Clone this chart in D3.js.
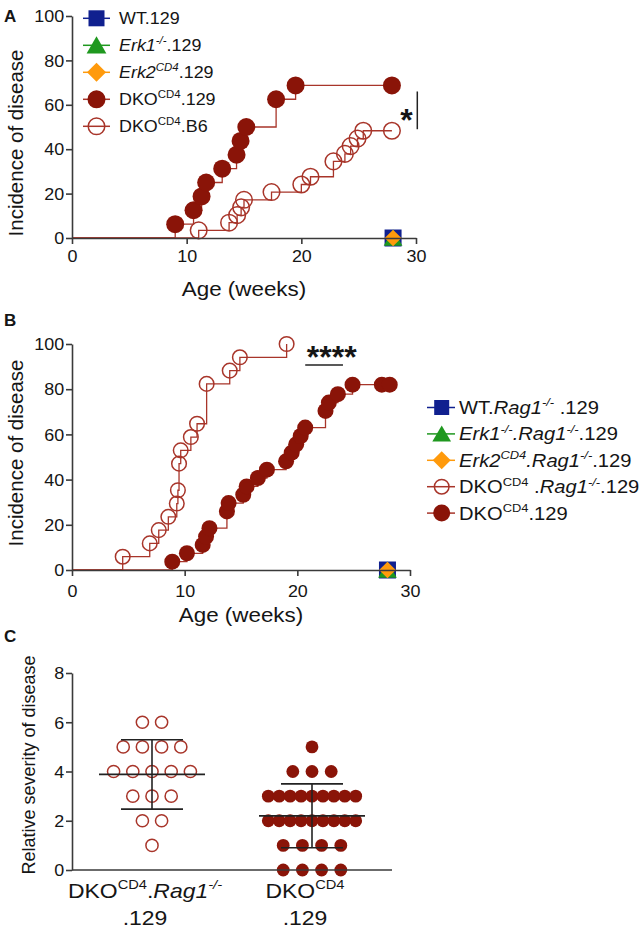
<!DOCTYPE html>
<html><head><meta charset="utf-8">
<script src="https://cdn.jsdelivr.net/npm/d3@7"></script>
<style>
body{margin:0;background:#fff}
svg{display:block}
text{font-family:"Liberation Sans",Arial,Helvetica,sans-serif;fill:#151515}
</style>
</head><body>
<svg id="chart" width="641" height="932"></svg>
<script>
// ---------------- DATA ----------------
const ageTicks = [0, 10, 20, 30];
const incidenceTicks = [0, 20, 40, 60, 80, 100];
const severityTicks = [0, 2, 4, 6, 8];

// Panel A
const aDko129Age = [9.0, 10.6, 11.3, 11.7, 13.1, 14.35, 14.7, 15.2, 17.8, 19.5];
const aDko129Inc = [6.25, 12.5, 18.75, 25, 31.25, 37.5, 43.75, 50, 62.5, 68.75];
const aDko129Censor = [27.9];
const aDkoB6Age = [11.05, 13.7, 14.4, 14.75, 15.0, 17.4, 20.0, 20.8, 22.8, 23.8, 24.3, 24.9, 25.4];
const aDkoB6Inc = [3.45, 6.9, 10.3, 13.8, 17.2, 20.7, 24.1, 27.6, 34.5, 37.9, 41.4, 44.8, 48.3];
const aDkoB6Censor = [27.9];
const controlAge = [28, 28, 28];     // WT, Erk1-/-, Erk2CD4 : no disease
const controlInc = [0, 0, 0];

// Panel B
const bRagAge = [4.5, 6.9, 7.7, 8.55, 9.3, 9.4, 9.5, 9.65, 10.55, 11.1, 11.95, 14.0, 14.9, 19.05];
const bRagInc = [5.88, 11.76, 17.65, 23.53, 29.41, 35.29, 47.06, 52.94, 58.82, 64.71, 82.35, 88.24, 94.12, 100];
const bDkoAge = [8.9, 10.2, 11.6, 11.9, 12.2, 13.75, 13.9, 15.2, 15.5, 16.5, 17.3, 19.0, 19.5, 19.9, 20.3, 20.7, 22.5, 22.8, 23.6, 24.9];
const bDkoInc = [3.7, 7.4, 11.1, 14.8, 18.5, 25.9, 29.6, 33.3, 37.0, 40.7, 44.4, 48.1, 51.9, 55.6, 59.3, 63.0, 70.4, 74.1, 77.8, 82.0];
const bDkoCensor = [27.5, 28.2];

// Panel C
const severityGroups = ["rag", "dko"];
const severityRag = [6, 6, 5, 5, 5, 5, 4, 4, 4, 4, 4, 3, 3, 3, 2, 2, 1];
const severityDko = [5, 4, 4, 4, 3, 3, 3, 3, 3, 3, 3, 3, 3, 2, 2, 2, 2, 2, 2, 2, 2, 2, 1, 1, 1, 1, 0, 0, 0, 0];

// ---------------- STYLE ----------------
const SX = 1.12;
const RED = "#8a1408", RED_LINE = "#a8352a", NAVY = "#10208f", GREEN = "#1f981f", ORANGE = "#ff9a0c", AX = "#3a3a3a";
const svg = d3.select("#chart");

function rich(parent, x, y, segs, o = {}) {
  const size = o.size || 16;
  const g = parent.append("g").attr("transform", `translate(${x},${y})` + (o.rot ? ` rotate(${o.rot})` : ` scale(${o.sx || SX},1)`));
  const t = g.append("text").attr("font-size", size).attr("text-anchor", o.anchor || "start");
  if (o.weight) t.attr("font-weight", o.weight);
  let shift = 0;
  segs.forEach(s => {
    const target = s.sup ? -size * 0.42 : 0;
    const ts = t.append("tspan").text(s.t).attr("dy", target - shift);
    shift = target;
    if (s.sup) ts.attr("font-size", size * 0.64);
    if (s.it) ts.attr("font-style", "italic");
  });
  return t;
}

function marker(g, type, x, y, s) {
  const c = g.append("g").attr("transform", `translate(${x},${y})`);
  if (type === "square") c.append("rect").attr("x", -s / 2).attr("y", -s / 2).attr("width", s).attr("height", s).attr("fill", NAVY);
  if (type === "triangle") c.append("path").attr("d", `M${-s * 0.55},${s * 0.45}L${s * 0.55},${s * 0.45}L0,${-s * 0.5}Z`).attr("fill", GREEN);
  if (type === "diamond") c.append("path").attr("d", `M0,${-s / 2}L${s / 2},0L0,${s / 2}L${-s / 2},0Z`).attr("fill", ORANGE);
  if (type === "filled") c.append("circle").attr("r", s / 2).attr("fill", RED);
  if (type === "open") c.append("circle").attr("r", s / 2 - 0.7).attr("fill", "none").attr("stroke", RED_LINE).attr("stroke-width", 1.5);
}

function styleAxis(g) {
  g.selectAll("path,line").attr("stroke", AX).attr("stroke-width", 1.6);
  g.selectAll("text").attr("font-size", 16).attr("fill", "#151515").attr("font-family", '"Liberation Sans",Arial,sans-serif')
    .attr("transform", `scale(${SX},1)`);
}

function kmPanel(x, y, series, controls, ctrlSize, circ) {
  const g = svg.append("g");
  series.forEach(s => {
    const pts = [[0, 0], ...s.age.map((a, i) => [a, s.inc[i]])];
    const last = s.inc[s.inc.length - 1];
    s.censor.forEach(c => pts.push([c, last]));
    g.append("path").attr("d", d3.line().x(d => x(d[0])).y(d => y(d[1])).curve(d3.curveStepAfter)(pts))
      .attr("fill", "none").attr("stroke", RED_LINE).attr("stroke-width", 1.3);
  });
  series.forEach(s => {
    const last = s.inc[s.inc.length - 1];
    const pts = [...s.age.map((a, i) => [a, s.inc[i]]), ...s.censor.map(c => [c, last])];
    pts.forEach(p => marker(g, s.type, x(p[0]), y(p[1]), circ));
  });
  const types = ["square", "triangle", "diamond"];
  controls.age.forEach((a, i) => marker(g, types[i], x(a), y(controls.inc[i]), i === 2 ? ctrlSize * 0.98 : ctrlSize));
  return g;
}

function axesKM(x, y, yAxisTop, xBase) {
  const gy = svg.append("g").attr("transform", `translate(${x.range()[0]},0)`)
    .call(d3.axisLeft(y).tickValues(incidenceTicks).tickSize(6).tickPadding(1).tickSizeOuter(0));
  styleAxis(gy);
  gy.selectAll("text").attr("dy", "0.36em");
  const gx = svg.append("g").attr("transform", `translate(0,${y(0)})`)
    .call(d3.axisBottom(x).tickValues(ageTicks).tickSize(6).tickPadding(xBase).tickSizeOuter(0));
  styleAxis(gx);
}

// ---------------- PANEL A ----------------
const xA = d3.scaleLinear().domain([0, 30]).range([72, 416]);
const yA = d3.scaleLinear().domain([0, 100]).range([238, 16]);
kmPanel(xA, yA, [
  { age: aDkoB6Age, inc: aDkoB6Inc, censor: aDkoB6Censor, type: "open" },
  { age: aDko129Age, inc: aDko129Inc, censor: aDko129Censor, type: "filled" }
], { age: controlAge, inc: controlInc }, 17, 18);
axesKM(xA, yA, 16, 7);
svg.append("text").attr("transform", `translate(23,143) rotate(-90)`).attr("text-anchor", "middle").attr("font-size", 20.5).text("Incidence of disease");
rich(svg, (72 + 416) / 2 - 0, 296, [{ t: "Age (weeks)" }], { size: 20, anchor: "middle" });
rich(svg, 4, 22, [{ t: "A" }], { size: 17, weight: "bold", sx: 1 });
// significance
svg.append("text").attr("x", 406.5).attr("y", 131).attr("text-anchor", "middle").attr("font-size", 32).attr("font-weight", "bold").text("*");
svg.append("line").attr("x1", 417.3).attr("x2", 417.3).attr("y1", yA(66)).attr("y2", yA(49)).attr("stroke", "#222").attr("stroke-width", 1.5);

// legend A
const legA = [
  { seg: [{ t: "WT.129" }], type: "square", color: NAVY, s: 16 },
  { seg: [{ t: "Erk1", it: 1 }, { t: "-/-", sup: 1, it: 1 }, { t: ".129" }], type: "triangle", color: GREEN, s: 18 },
  { seg: [{ t: "Erk2", it: 1 }, { t: "CD4", sup: 1, it: 1 }, { t: ".129" }], type: "diamond", color: ORANGE, s: 19 },
  { seg: [{ t: "DKO" }, { t: "CD4", sup: 1 }, { t: ".129" }], type: "filled", color: RED_LINE, s: 18 },
  { seg: [{ t: "DKO" }, { t: "CD4", sup: 1 }, { t: ".B6" }], type: "open", color: RED_LINE, s: 18 }
];
legA.forEach((d, i) => {
  const yy = 18.3 + i * 27;
  svg.append("line").attr("x1", 83).attr("x2", 110).attr("y1", yy).attr("y2", yy).attr("stroke", d.color).attr("stroke-width", 1.5);
  marker(svg, d.type, 96.5, yy, d.s);
  rich(svg, 119, yy + 5.8, d.seg, { size: 16 });
});

// ---------------- PANEL B ----------------
const xB = d3.scaleLinear().domain([0, 30]).range([72, 410]);
const yB = d3.scaleLinear().domain([0, 100]).range([570, 344]);
kmPanel(xB, yB, [
  { age: bRagAge, inc: bRagInc, censor: [], type: "open" },
  { age: bDkoAge, inc: bDkoInc, censor: bDkoCensor, type: "filled" }
], { age: controlAge, inc: controlInc }, 17, 16);
axesKM(xB, yB, 344, 10);
svg.append("text").attr("transform", `translate(23,453) rotate(-90)`).attr("text-anchor", "middle").attr("font-size", 20.5).text("Incidence of disease");
rich(svg, (72 + 410) / 2, 622, [{ t: "Age (weeks)" }], { size: 20, anchor: "middle" });
rich(svg, 4, 326, [{ t: "B" }], { size: 17, weight: "bold", sx: 1 });
svg.append("text").attr("x", 331.7).attr("y", 368).attr("text-anchor", "middle").attr("font-size", 32).attr("font-weight", "bold").text("****");
svg.append("line").attr("x1", xB(20.7)).attr("x2", xB(24.05)).attr("y1", 365).attr("y2", 365).attr("stroke", "#222").attr("stroke-width", 1.5);

const legB = [
  { seg: [{ t: "WT." }, { t: "Rag1", it: 1 }, { t: "-/-", sup: 1, it: 1 }, { t: " .129" }], type: "square", color: NAVY, s: 15 },
  { seg: [{ t: "Erk1", it: 1 }, { t: "-/-", sup: 1, it: 1 }, { t: ".Rag1", it: 1 }, { t: "-/-", sup: 1, it: 1 }, { t: ".129" }], type: "triangle", color: GREEN, s: 17 },
  { seg: [{ t: "Erk2", it: 1 }, { t: "CD4", sup: 1, it: 1 }, { t: ".Rag1", it: 1 }, { t: "-/-", sup: 1, it: 1 }, { t: ".129" }], type: "diamond", color: ORANGE, s: 18 },
  { seg: [{ t: "DKO" }, { t: "CD4", sup: 1 }, { t: " ." }, { t: "Rag1", it: 1 }, { t: "-/-", sup: 1, it: 1 }, { t: ".129" }], type: "open", color: RED_LINE, s: 16 },
  { seg: [{ t: "DKO" }, { t: "CD4", sup: 1 }, { t: ".129" }], type: "filled", color: RED_LINE, s: 17 }
];
legB.forEach((d, i) => {
  const yy = 407.5 + i * 26.4;
  svg.append("line").attr("x1", 427).attr("x2", 455).attr("y1", yy).attr("y2", yy).attr("stroke", d.color).attr("stroke-width", 1.5);
  marker(svg, d.type, 441.7, yy, d.s);
  rich(svg, 459, yy + 6.4, d.seg, { size: 18 });
});

// ---------------- PANEL C ----------------
const xC = d3.scaleBand().domain(severityGroups).range([72, 392]);
const yC = d3.scaleLinear().domain([0, 8]).range([870, 673]);
const gC = svg.append("g");
const cData = [{ key: "rag", vals: severityRag, type: "open" }, { key: "dko", vals: severityDko, type: "filled" }];
cData.forEach(grp => {
  const cx = xC(grp.key) + xC.bandwidth() / 2;
  const rows = d3.group(grp.vals, v => v);
  rows.forEach((arr, v) => {
    const n = arr.length;
    const sp = n > 1 ? Math.min(19.2, 87.4 / (n - 1)) : 0;
    arr.forEach((_, i) => {
      const px = cx + (i - (n - 1) / 2) * sp;
      if (grp.type === "open") gC.append("circle").attr("cx", px).attr("cy", yC(v)).attr("r", 6.1).attr("fill", "#fff").attr("stroke", RED_LINE).attr("stroke-width", 1.5);
      else gC.append("circle").attr("cx", px).attr("cy", yC(v)).attr("r", 6.4).attr("fill", RED);
    });
  });
});
cData.forEach(grp => {
  const cx = xC(grp.key) + xC.bandwidth() / 2;
  const m = d3.mean(grp.vals), sd = d3.deviation(grp.vals);
  const L = (x1, x2, y1, y2) => gC.append("line").attr("x1", x1).attr("x2", x2).attr("y1", y1).attr("y2", y2).attr("stroke", "#222").attr("stroke-width", 1.6);
  L(cx - 53, cx + 53, yC(m), yC(m));
  L(cx, cx, yC(m - sd), yC(m + sd));
  L(cx - 31, cx + 31, yC(m + sd), yC(m + sd));
  L(cx - 31, cx + 31, yC(m - sd), yC(m - sd));
});
const gyC = svg.append("g").attr("transform", "translate(72,0)")
  .call(d3.axisLeft(yC).tickValues(severityTicks).tickSize(6).tickPadding(1).tickSizeOuter(0));
styleAxis(gyC);
gyC.selectAll("text").attr("dy", "0.36em");
svg.append("line").attr("x1", 72).attr("x2", 392).attr("y1", yC(0)).attr("y2", yC(0)).attr("stroke", AX).attr("stroke-width", 1.6);
svg.append("text").attr("transform", "translate(35,765) rotate(-90)").attr("text-anchor", "middle").attr("font-size", 18).text("Relative severity of disease");
rich(svg, 4, 642, [{ t: "C" }], { size: 17, weight: "bold", sx: 1 });
const catLabels = {
  rag: [[{ t: "DKO" }, { t: "CD4", sup: 1 }, { t: "." }, { t: "Rag1", it: 1 }, { t: "-/-", sup: 1, it: 1 }], [{ t: ".129" }]],
  dko: [[{ t: "DKO" }, { t: "CD4", sup: 1 }], [{ t: ".129" }]]
};
severityGroups.forEach(k => {
  const cx = xC(k) + xC.bandwidth() / 2 - 7;
  rich(svg, cx, 898, catLabels[k][0], { size: 20.5, anchor: "middle" });
  rich(svg, cx, 925, catLabels[k][1], { size: 20.5, anchor: "middle" });
});
</script>
</body></html>
